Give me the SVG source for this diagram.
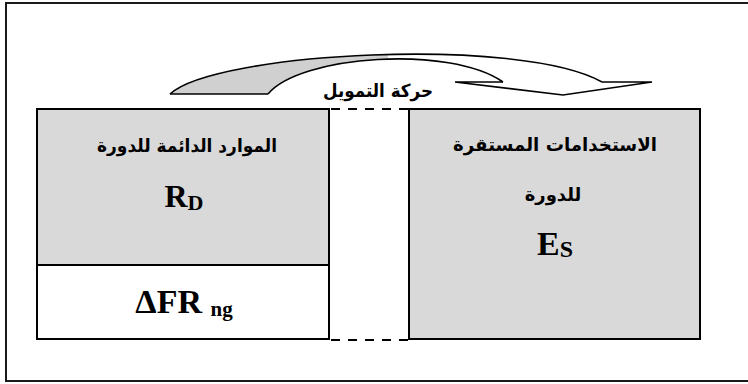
<svg xmlns="http://www.w3.org/2000/svg" width="748" height="384" viewBox="0 0 748 384">
  <style>
    .frame{fill:none;stroke:#1a1a1a;stroke-width:2}
    .box{stroke:#000;stroke-width:2}
    .shade{fill:#d9d9d9}
    .plain{fill:#fff}
    .ar{font-family:"DejaVu Sans",sans-serif;font-weight:bold;font-size:18px;text-anchor:middle;fill:#000}
    .lat{font-family:"Liberation Serif","Times New Roman",serif;font-weight:bold;text-anchor:middle;fill:#000}
    .dash{fill:none;stroke:#000;stroke-width:2;stroke-dasharray:9 8}
    .line{fill:none;stroke:#000;stroke-width:1.6;stroke-linejoin:miter}
  </style>
  <defs>
    <clipPath id="backHalf">
      <rect x="150" y="40" width="238" height="60"/>
    </clipPath>
  </defs>

  <!-- outer frame (open on the right) -->
  <path class="frame" d="M750,3 H6 V381 H750"/>

  <!-- left block: resources -->
  <g id="resources">
    <rect class="box shade" x="37" y="109" width="292" height="156"/>
    <text class="ar" x="187" y="152" textLength="180" lengthAdjust="spacingAndGlyphs">الموارد الدائمة للدورة</text>
    <text class="lat" x="184" y="207" font-size="32">R<tspan font-size="22" dy="3">D</tspan></text>
  </g>

  <g id="working-capital">
    <rect class="box plain" x="37" y="265" width="292" height="74"/>
    <text class="lat" x="184" y="313" font-size="34">ΔFR <tspan font-size="21" dy="3">ng</tspan></text>
  </g>

  <!-- right block: uses -->
  <g id="uses">
    <rect class="box shade" x="409" y="109" width="291" height="230"/>
    <text class="ar" x="555" y="151" textLength="204" lengthAdjust="spacingAndGlyphs">الاستخدامات المستقرة</text>
    <text class="ar" x="553" y="201">للدورة</text>
    <text class="lat" x="555" y="255" font-size="34">E<tspan font-size="24" dy="2">S</tspan></text>
  </g>

  <!-- connectors -->
  <g id="connectors">
    <line class="dash" x1="331" y1="109" x2="409" y2="109"/>
    <line class="dash" x1="331" y1="340" x2="409" y2="340"/>

    <!-- curved financing arrow: shaded back face, then outlines -->
    <path class="shade" clip-path="url(#backHalf)" style="fill:#d0d0d0"
          d="M170,94 C215,52 520,36 602,82 L503,82 C450,45 300,55 268,94 Z"/>
    <path class="line" d="M170,94 C215,52 520,36 602,82"/>
    <path class="line" d="M268,94 C300,55 450,45 503,82"/>
    <path class="line" d="M170,94 H268"/>
    <path class="line" d="M503,82 L455,82 L563,95 L652,82 L602,82"/>
  </g>

  <g id="label">
    <text class="ar" x="378" y="97" textLength="110" lengthAdjust="spacingAndGlyphs">حركة التمويل</text>
  </g>
</svg>
